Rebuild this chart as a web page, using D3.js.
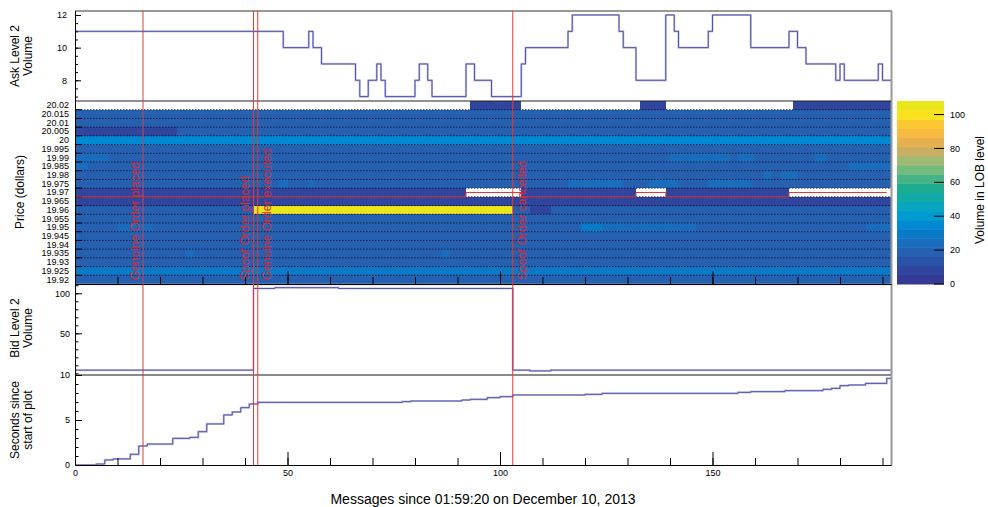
<!DOCTYPE html>
<html>
<head>
<meta charset="utf-8">
<script src="https://cdn.jsdelivr.net/npm/d3@7"></script>
<style>
  body { margin: 0; background: #fff; }
  svg text { font-family: "Liberation Sans", Arial, Helvetica, sans-serif; }
</style>
</head>
<body>
<svg id="chart" width="988" height="507"></svg>
<script>
// ---------------- data ----------------
const nMessages = 192;

// Ask level 2 volume (step changes: message index -> volume)
const askMsg = [0, 49, 55, 56, 58, 66, 67, 69, 71, 72, 73, 80, 81, 83, 84, 92, 94, 98, 105, 106, 116, 117, 128, 129, 132, 139, 141, 142, 149, 150, 159, 168, 170, 172, 179, 180, 181, 189, 190, 192];
const askVol = [11, 10, 11, 10, 9, 8, 7, 8, 9, 8, 7, 8, 9, 8, 7, 9, 8, 7, 9, 10, 11, 12, 11, 10, 8, 12, 11, 10, 11, 12, 10, 11, 10, 9, 8, 9, 8, 9, 8, 8];

// Bid level 2 volume
const bidMsg = [0, 42, 47, 62, 103, 107, 112, 192];
const bidVol = [4, 106, 107, 106, 4, 3, 4, 4];

// Seconds elapsed since the first message
const secMsg = [0, 5, 7, 9, 13, 15, 17, 23, 27, 29, 31, 35, 37, 39, 41, 43, 77, 79, 91, 93, 97, 100, 103, 120, 124, 156, 159, 167, 176, 178, 180, 182, 186, 191, 192];
const secVal = [0, 0.11, 0.56, 0.67, 1.19, 2.11, 2.33, 2.96, 3.07, 3.7, 4.56, 5.56, 5.89, 6.37, 6.78, 6.96, 7.04, 7.11, 7.22, 7.3, 7.48, 7.59, 7.78, 7.85, 7.96, 8.07, 8.15, 8.26, 8.41, 8.52, 8.81, 8.89, 9.07, 9.63, 9.63];

// Limit order book price levels (top to bottom) and their usual resting volume
const priceLabels = ["20.02", "20.015", "20.01", "20.005", "20", "19.995", "19.99", "19.985", "19.98", "19.975", "19.97", "19.965", "19.96", "19.955", "19.95", "19.945", "19.94", "19.935", "19.93", "19.925", "19.92"];
const levelBaseVol = [0, 19, 19, 19, 35, 19, 19, 19, 19, 19, 9, 9, 19, 19, 19, 19, 19, 19, 19, 30, 19];

// Periods where a level's volume differs: [price, fromMsg, toMsg, volume]
const volumeRuns = [
  ["20.02", 93, 105, 8], ["20.02", 133, 139, 8], ["20.02", 169, 192, 8],
  ["20.005", 0, 24, 9],
  ["19.99", 0, 8, 24], ["19.99", 140, 154, 23], ["19.99", 156, 160, 23], ["19.99", 174, 177, 23],
  ["19.985", 0, 3, 24], ["19.985", 182, 192, 23],
  ["19.98", 162, 164, 23], ["19.98", 166, 170, 23],
  ["19.975", 48, 50, 23], ["19.975", 55, 56, 23], ["19.975", 116, 129, 23], ["19.975", 135, 142, 23], ["19.975", 149, 159, 23],
  ["19.97", 92, 105, 0], ["19.97", 132, 139, 0], ["19.97", 168, 192, 0],
  ["19.96", 42, 103, 106], ["19.96", 107, 112, 9],
  ["19.95", 10, 18, 24], ["19.95", 119, 124, 28], ["19.95", 124, 146, 22], ["19.95", 186, 192, 24],
  ["19.935", 26, 28, 22], ["19.935", 86, 88, 22]
];

// Mid price
const midMsg = [0, 92, 105, 132, 139, 168, 191];
const midPrice = [19.9675, 19.97, 19.9675, 19.97, 19.9675, 19.97, 19.97];

// Annotated order events
const eventMsg = [16, 42, 43, 103];
const eventText = ["Genuine Order placed", "Spoof Order placed", "Genuine Order executed", "Spoof Order cancelled"];

// Axis ticks
const askTicks = [8, 10, 12];
const bidTicks = [50, 100];
const secTicks = [0, 5, 10];
const msgTicks = [0, 50, 100, 150];
const cbTicks = [0, 20, 40, 60, 80, 100];
const zMax = 108;

// ---------------- layout / style ----------------
const X0 = 75, X1 = 891;
const ASK = [11, 101], HEAT = [101, 284], BID = [284, 375], SEC = [375, 465];
const CB = { x0: 897, x1: 944 };
const FONT = "Liberation Sans, Arial, Helvetica, sans-serif";
const LINE_CORE = "#45459d", LINE_HALO = "#c6c6e4";
const EVENT_RED = "#e23a3a";
const bandColors = ["#373a94", "#30469e", "#2a53a8", "#2660b0", "#1a6cbc", "#0a7ac8", "#008ad4", "#009cd0",
  "#08a6c0", "#12aaa5", "#1eac91", "#46b487", "#73bc7d", "#a0b973", "#c8af64", "#e6af50",
  "#f8b941", "#fcc832", "#fae11e", "#ebe619"];

const svg = d3.select("#chart");

const x = d3.scaleLinear().domain([0, nMessages]).range([X0, X1]);
const askY = d3.scaleLinear().domain([6.73, 12.245]).range([ASK[1], ASK[0]]);
const priceY = d3.scaleBand().domain(priceLabels).range(HEAT);
const priceLin = d3.scaleLinear().domain([20.0225, 19.9175]).range(HEAT);
const bidY = d3.scaleLinear().domain([-2.1, 111.6]).range([BID[1], BID[0]]);
const secY = d3.scaleLinear().domain([0, 10]).range([SEC[1], SEC[0]]);
const zColor = d3.scaleQuantize().domain([0, zMax]).range(bandColors);
const cbY = d3.scaleLinear().domain([0, zMax]).range([HEAT[1], HEAT[0]]);
const intFmt = d3.format("d");

// ---------------- heat map of book depth ----------------
const heat = svg.append("g");
const cells = [];
priceLabels.forEach((p, i) => cells.push([p, 0, nMessages, levelBaseVol[i]]));
volumeRuns.forEach(r => cells.push(r));
heat.selectAll("rect").data(cells).join("rect")
  .attr("x", d => x(d[1]))
  .attr("width", d => x(d[2]) - x(d[1]))
  .attr("y", d => priceY(d[0]))
  .attr("height", priceY.bandwidth())
  .attr("fill", d => d[3] > 0 ? zColor(d[3]) : "#fff")
  .attr("shape-rendering", "crispEdges");

// dotted level separators
heat.selectAll("line.sep").data(priceLabels.slice(1)).join("line")
  .attr("class", "sep")
  .attr("x1", X0).attr("x2", X1)
  .attr("y1", d => priceY(d)).attr("y2", d => priceY(d))
  .attr("stroke", "#14142a").attr("stroke-width", 1)
  .attr("stroke-dasharray", "1.5,1.5").attr("opacity", 0.85);

// level boundary ticks on the price axis
heat.selectAll("line.ptick").data(priceLabels.slice(1)).join("line")
  .attr("class", "ptick")
  .attr("x1", X0).attr("x2", X0 + 7)
  .attr("y1", d => priceY(d)).attr("y2", d => priceY(d))
  .attr("stroke", "#000");

// mid price
svg.append("path")
  .attr("d", d3.line().curve(d3.curveStepAfter).x((d, i) => x(midMsg[i])).y((d, i) => priceLin(midPrice[i]))(midMsg))
  .attr("fill", "none").attr("stroke", EVENT_RED).attr("stroke-width", 1);

// ---------------- step series ----------------
function stepPath(xs, ys, yScale) {
  return d3.line().curve(d3.curveStepAfter).x((d, i) => x(xs[i])).y((d, i) => yScale(ys[i]))(xs);
}
function drawSeries(xs, ys, yScale) {
  const d = stepPath(xs, ys, yScale);
  svg.append("path").attr("d", d).attr("fill", "none").attr("stroke", LINE_HALO).attr("stroke-width", 2.2);
  svg.append("path").attr("d", d).attr("fill", "none").attr("stroke", LINE_CORE).attr("stroke-width", 0.9);
}
drawSeries(askMsg, askVol, askY);
drawSeries(bidMsg, bidVol, bidY);
drawSeries(secMsg, secVal, secY);

// ---------------- frames ----------------
svg.append("line").attr("x1", X0).attr("x2", X1 + 1).attr("y1", ASK[0]).attr("y2", ASK[0]).attr("stroke", "#999").attr("stroke-width", 2);
svg.append("line").attr("x1", X1 + 0.5).attr("x2", X1 + 0.5).attr("y1", ASK[0]).attr("y2", SEC[1]).attr("stroke", "#999").attr("stroke-width", 2);
svg.append("line").attr("x1", X0).attr("x2", X1).attr("y1", HEAT[0]).attr("y2", HEAT[0]).attr("stroke", "#222").attr("stroke-width", 1);
svg.append("line").attr("x1", X0).attr("x2", X1).attr("y1", BID[0] + 0.5).attr("y2", BID[0] + 0.5).attr("stroke", "#bbb").attr("stroke-width", 1.5);
svg.append("line").attr("x1", X0).attr("x2", X1).attr("y1", SEC[0]).attr("y2", SEC[0]).attr("stroke", "#8a8a8a").attr("stroke-width", 2);

// ---------------- axes ----------------
function styleAxis(g) {
  g.attr("font-family", FONT).attr("font-size", 9);
  g.selectAll(".domain").attr("stroke", "#000");
  g.selectAll(".tick line").attr("stroke", "#000");
  g.selectAll(".tick text").attr("fill", "#000");
}
// ask
svg.append("g").attr("transform", `translate(${X0},0)`)
  .call(d3.axisLeft(askY).tickValues(d3.range(7, 12.01, 0.5)).tickSize(-3).tickSizeOuter(0).tickFormat("")).call(styleAxis);
svg.append("g").attr("transform", `translate(${X0},0)`)
  .call(d3.axisLeft(askY).tickValues(askTicks).tickSize(-6).tickSizeOuter(0).tickPadding(8).tickFormat(intFmt)).call(styleAxis);
// price
svg.append("g").attr("transform", `translate(${X0},0)`)
  .call(d3.axisLeft(priceY).tickSize(0).tickPadding(6)).call(styleAxis);
// bid
svg.append("g").attr("transform", `translate(${X0},0)`)
  .call(d3.axisLeft(bidY).tickValues(d3.range(0, 111, 10)).tickSize(-3.5).tickSizeOuter(0).tickFormat("")).call(styleAxis);
svg.append("g").attr("transform", `translate(${X0},0)`)
  .call(d3.axisLeft(bidY).tickValues(bidTicks).tickSize(-7).tickSizeOuter(0).tickPadding(5).tickFormat(intFmt)).call(styleAxis);
// seconds
svg.append("g").attr("transform", `translate(${X0},0)`)
  .call(d3.axisLeft(secY).tickValues(d3.range(0, 10.01, 1)).tickSize(-3.5).tickSizeOuter(0).tickFormat("")).call(styleAxis);
svg.append("g").attr("transform", `translate(${X0},0)`)
  .call(d3.axisLeft(secY).tickValues(secTicks).tickSize(-7).tickSizeOuter(0).tickPadding(5).tickFormat(intFmt)).call(styleAxis);
// message axis under the heat map (ticks only) and at the bottom
[HEAT[1], SEC[1]].forEach((yPos, k) => {
  svg.append("g").attr("transform", `translate(0,${yPos})`)
    .call(d3.axisBottom(x).tickValues(d3.range(0, nMessages, 10)).tickSize(-7).tickSizeOuter(0).tickFormat("")).call(styleAxis);
  const major = svg.append("g").attr("transform", `translate(0,${yPos})`)
    .call(d3.axisBottom(x).tickValues(msgTicks).tickSize(-13).tickSizeOuter(0).tickPadding(5).tickFormat(intFmt)).call(styleAxis);
  if (k === 0) major.selectAll(".tick text").remove();
});

// ---------------- event markers ----------------
const ev = svg.append("g");
ev.selectAll("line").data(eventMsg).join("line")
  .attr("x1", d => x(d)).attr("x2", d => x(d))
  .attr("y1", ASK[0]).attr("y2", SEC[1])
  .attr("stroke", EVENT_RED).attr("stroke-width", 1);
ev.selectAll("text").data(eventMsg).join("text")
  .attr("transform", (d, i) => `translate(${x(d) + (i < 2 ? -8.5 : 9)},${HEAT[1] - 4}) rotate(-90)`)
  .attr("dy", "0.36em")
  .attr("font-size", 12)
  .attr("fill", "#d42c3c")
  .text((d, i) => eventText[i]);

// ---------------- colour bar ----------------
const cb = svg.append("g");
const bandW = zMax / bandColors.length;
cb.selectAll("rect").data(bandColors).join("rect")
  .attr("x", CB.x0).attr("width", CB.x1 - CB.x0)
  .attr("y", (c, i) => cbY((i + 1) * bandW))
  .attr("height", (c, i) => cbY(i * bandW) - cbY((i + 1) * bandW) + 0.5)
  .attr("fill", c => c);
cb.selectAll("line").data(cbTicks).join("line")
  .attr("x1", CB.x1 - 10).attr("x2", CB.x1)
  .attr("y1", d => cbY(d)).attr("y2", d => cbY(d))
  .attr("stroke", "#000");
cb.selectAll("text").data(cbTicks).join("text")
  .attr("x", CB.x1 + 6).attr("y", d => cbY(d)).attr("dy", "0.35em")
  .attr("font-size", 9).text(d => d);

// ---------------- titles ----------------
function vTitle(lines, cx, cy) {
  lines.forEach((t, i) => {
    svg.append("text")
      .attr("transform", `translate(${cx + i * 13},${cy}) rotate(-90)`)
      .attr("text-anchor", "middle").attr("dy", "0.36em")
      .attr("font-size", 12).text(t);
  });
}
vTitle(["Ask Level 2", "Volume"], 15, 56);
vTitle(["Price (dollars)"], 20, 192);
vTitle(["Bid Level 2", "Volume"], 15, 328);
vTitle(["Seconds since", "start of plot"], 15, 420);
vTitle(["Volume in LOB level"], 980, 190);

svg.append("text")
  .attr("x", 483).attr("y", 499).attr("dy", "0.36em")
  .attr("text-anchor", "middle").attr("font-size", 14)
  .text("Messages since 01:59:20 on December 10, 2013");
</script>
</body>
</html>
